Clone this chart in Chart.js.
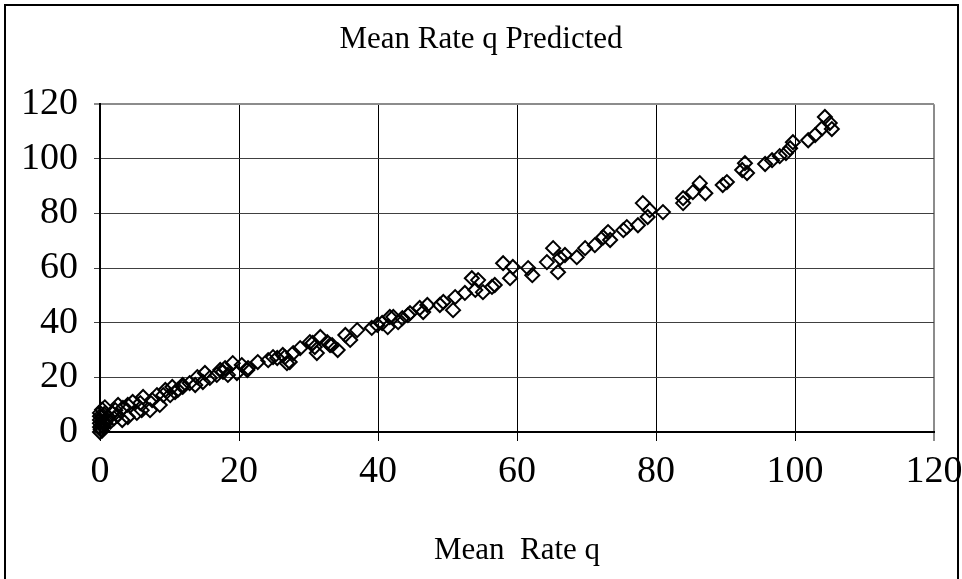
<!DOCTYPE html>
<html>
<head>
<meta charset="utf-8">
<script src="https://cdn.jsdelivr.net/npm/chart.js@4.4.1/dist/chart.umd.min.js"></script>
<style>
  html, body { margin: 0; padding: 0; background: #fff; overflow: hidden; }
  #wrap { position: relative; width: 962px; height: 579px; }
  #frame {
    position: absolute; left: 4px; top: 4px; width: 951px; height: 700px;
    border: 2px solid #000; pointer-events: none;
  }
</style>
</head>
<body>
<div id="wrap">
  <canvas id="chart" width="962" height="579"></canvas>
  <div id="frame"></div>
</div>
<script>
// Mean rate q (x) vs predicted mean rate (y)
const meanRate = [
  0, 0.3, 0.1, 0, 0.2, 0.5, 0, 0.4, 0.8, 0, 1, 0.3, 0, 0.6, 0, 1.5, 2, 1.2, 1.7, 2.5,
  0.7, 0.3, 2.2, 2.6, 3.3, 3.2, 4, 4, 4.7, 5.3, 5.8, 6, 6.2, 7.2, 7.5, 8.2, 8.6, 9.1, 9.4, 10.1,
  10.4, 10.8, 11.2, 11.9, 11.9, 12.9, 13.7, 14, 14.8, 15.1, 15.8, 16.8, 17.3, 17.7, 18, 18.4, 19.1, 19.7, 20.4, 21.2,
  21.3, 22.7, 24.2, 24.9, 25.5, 26.3, 26.6, 26.9, 27.3, 27.8, 28.8, 30.2, 30.6, 30.9, 31.2, 31.7, 32.7, 33.1, 33.4, 34.2,
  35.3, 36, 37, 39.1, 39.9, 40.6, 41.4, 41.7, 42.2, 42.9, 43.5, 44.3, 44.6, 46, 46.5, 47.1, 48.9, 49.4, 50.8, 51.1,
  52.5, 53.5, 54, 54.4, 55.1, 56.4, 56.8, 58, 59, 59.4, 61.6, 62.2, 64.3, 65.2, 65.9, 66.2, 66.9, 68.6, 69.8, 71.2,
  72.4, 73.1, 73.4, 75.3, 75.8, 77.4, 78.1, 78.8, 79.1, 81, 83.9, 83.9, 85.3, 86.3, 87.1, 89.6, 90.2, 92.4, 92.8, 93.1,
  95.7, 96.7, 97.8, 98.7, 99.3, 99.7, 101.9, 102.9, 103.9, 104.3, 105, 105.3
];
const predicted = [
  0, 0.5, 1, 1.8, 2.5, 2, 3.2, 3.5, 3.2, 4.4, 4.5, 5.5, 5.8, 6.5, 7, 3.8, 5, 5.5, 7, 6,
  9, 8.2, 8, 9.9, 8.8, 4.4, 5.5, 9.9, 11, 7, 10.6, 8, 12.8, 8, 11.7, 13.5, 9.9, 13.5, 15.4, 13.5,
  16.5, 14.6, 15.4, 16.5, 17.2, 17.9, 17.2, 20.1, 18.3, 21.6, 19.8, 20.9, 22.7, 22, 23.4, 20.9, 25.2, 21.6, 24.5, 22.7,
  23.4, 25.6, 26.3, 27.4, 27.1, 28.2, 27.4, 25.2, 25.6, 28.9, 30.7, 32.9, 32.6, 31.1, 28.9, 34.8, 32.9, 31.8, 31.8, 30,
  35.5, 33.7, 37.3, 38.1, 39.2, 39.9, 38.4, 42.1, 42.1, 40.2, 41.7, 42.8, 43.5, 45.4, 43.9, 46.5, 46.5, 47.6, 44.6, 49.4,
  50.9, 56.3, 52, 55.6, 51.2, 53.1, 53.8, 61.8, 56.3, 60.4, 60, 57.4, 62.2, 67.3, 58.5, 63.7, 64.8, 64, 67.3, 68.4,
  71.3, 73.2, 70.3, 73.9, 75, 75.7, 83.8, 78.7, 81.2, 80.5, 83.8, 85.6, 87.8, 91.1, 87.4, 90.4, 91.5, 95.9, 98.4, 94.8,
  98.1, 99.5, 101, 102.1, 103.9, 106.1, 106.8, 108.7, 111.2, 115.3, 113.1, 110.9
];
const axisTicks = [0, 20, 40, 60, 80, 100, 120];

const serif = "'Liberation Serif', 'Times New Roman', serif";

const points = meanRate.map((x, i) => ({ x, y: predicted[i] }));

new Chart(document.getElementById("chart"), {
  type: "scatter",
  data: {
    datasets: [{
      data: points,
      pointStyle: "rectRot",
      pointRadius: 7,
      pointBorderWidth: 2,
      borderColor: "#000",
      backgroundColor: "rgba(0,0,0,0)",
      clip: false
    }]
  },
  options: {
    responsive: false,
    animation: false,
    events: [],
    layout: { padding: { left: 0, right: 0, top: 0, bottom: 10 } },
    plugins: {
      legend: { display: false },
      tooltip: { enabled: false },
      title: {
        display: true,
        text: "Mean Rate q Predicted",
        color: "#000",
        font: { family: serif, size: 31, weight: "normal" },
        padding: { top: 21, bottom: 46 }
      }
    },
    scales: {
      x: {
        type: "linear",
        min: 0,
        max: 120,
        afterBuildTicks: s => { s.ticks = axisTicks.map(v => ({ value: v })); },
        afterFit: s => { s.height = 137; s.paddingRight = 28; },
        ticks: {
          color: "#000",
          padding: 8,
          font: { family: serif, size: 38 }
        },
        grid: {
          color: c => c.tick && c.tick.value === 120 ? "#8c8c8c" : "#000",
          lineWidth: c => c.tick && c.tick.value === 120 ? 2 : 1,
          tickLength: 9
        },
        border: { color: "#000", width: 2 },
        title: {
          display: true,
          text: "Mean  Rate q",
          color: "#000",
          font: { family: serif, size: 31, weight: "normal" },
          padding: { top: 0, bottom: 0 }
        }
      },
      y: {
        type: "linear",
        min: 0,
        max: 120,
        afterBuildTicks: s => { s.ticks = axisTicks.map(v => ({ value: v })); },
        afterFit: s => { s.width = 100; },
        ticks: {
          color: "#000",
          padding: 16,
          font: { family: serif, size: 38 }
        },
        grid: {
          color: c => c.tick && c.tick.value === 120 ? "#8c8c8c" : "#404040",
          lineWidth: c => c.tick && c.tick.value === 120 ? 2 : 1,
          tickLength: 6
        },
        border: { color: "#000", width: 2 }
      }
    }
  }
});
</script>
</body>
</html>
